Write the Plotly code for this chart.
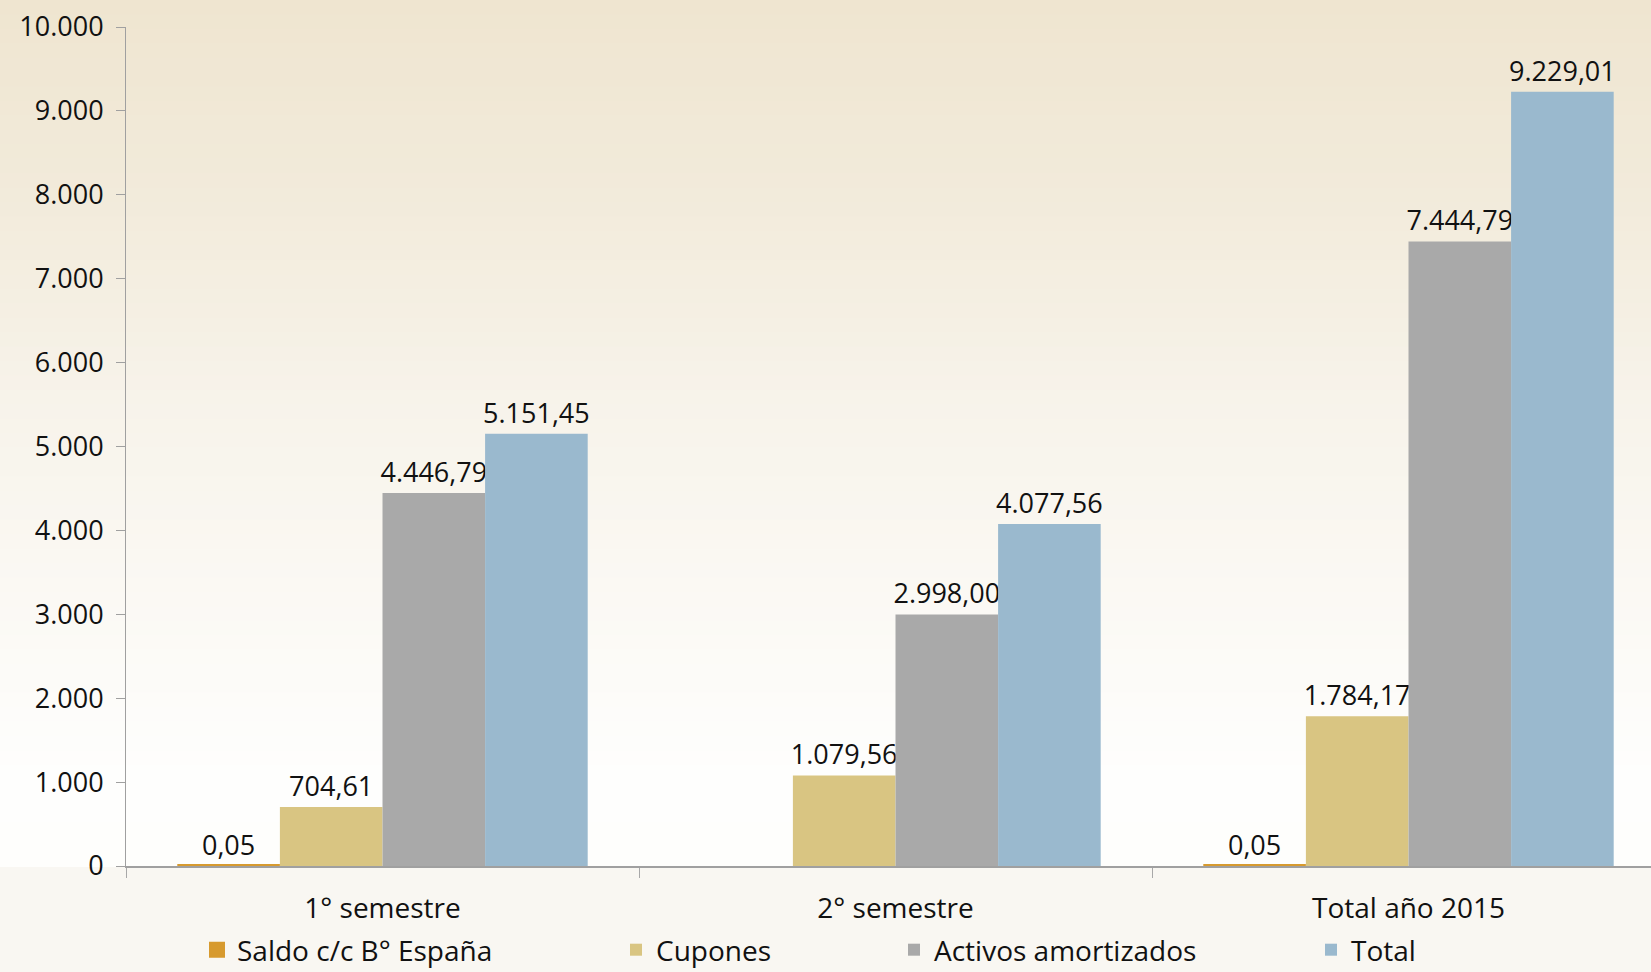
import plotly.graph_objects as go

categories = ["1° semestre", "2° semestre", "Total año 2015"]
series_names = ["Saldo c/c B° España", "Cupones", "Activos amortizados", "Total"]
saldo = [0.05, None, 0.05]
cupones = [704.61, 1079.56, 1784.17]
activos = [4446.79, 2998.00, 7444.79]
total = [5151.45, 4077.56, 9229.01]
y_ticks = [0, 1000, 2000, 3000, 4000, 5000, 6000, 7000, 8000, 9000, 10000]

colors = ["#D79A2E", "#D9C582", "#A9A9A9", "#9AB9CE"]

W, H = 1651, 972
L, R, T, B = 126, 0, 27, 106
plot_w = W - L - R
plot_h = H - T - B

FONT = "Open Sans"

fig = go.Figure()
values = [saldo, cupones, activos, total]
legend_ids = ["legend", "legend2", "legend3", "legend4"]
for i, (name, vals) in enumerate(zip(series_names, values)):
    kw = {}
    if i == 0:
        kw["marker_line"] = dict(color=colors[0], width=4)
    else:
        kw["marker_line"] = dict(width=0)
    fig.add_trace(go.Bar(
        x=categories, y=vals, name=name,
        marker_color=colors[i],
        texttemplate="%{y:,.2f}",
        textposition="outside",
        constraintext="none",
        textfont=dict(size=27, color="#111111", family=FONT),
        cliponaxis=False,
        legend=legend_ids[i],
        **kw,
    ))

# background gradient (decorative) as horizontal bands
stops = [(0, (239, 229, 208)), (200, (242, 235, 219)), (400, (247, 243, 234)),
         (600, (251, 249, 244)), (780, (254, 254, 253)), (866, (254, 254, 252))]
def col_at(py):
    for (y0, c0), (y1, c1) in zip(stops[:-1], stops[1:]):
        if y0 <= py <= y1:
            t = (py - y0) / (y1 - y0)
            return tuple(round(a + (b - a) * t) for a, b in zip(c0, c1))
    return stops[-1][1]

shapes = []
n = 60
for k in range(n):
    py0 = 866 * k / n
    py1 = 866 * (k + 1) / n + 1
    c = col_at((py0 + py1) / 2)
    shapes.append(dict(
        type="rect", xref="paper", yref="paper", layer="below",
        x0=-L / plot_w, x1=1.0,
        y0=(866 - py1) / plot_h, y1=(866 - py0) / plot_h,
        fillcolor="rgb(%d,%d,%d)" % c, line=dict(width=0),
    ))

legend_px = [211, 630, 908, 1325]
leg_y = (866 - 950) / plot_h
legends = {}
for lid, px in zip(legend_ids, legend_px):
    legends[lid] = dict(
        x=(px - 14 - L) / plot_w, y=leg_y, xanchor="left", yanchor="middle",
        orientation="h", bgcolor="rgba(0,0,0,0)",
        font=dict(size=28, color="#111111", family=FONT),
        itemwidth=30,
    )

fig.update_layout(
    width=W, height=H,
    margin=dict(l=L, r=R, t=T, b=B, pad=0, autoexpand=False),
    paper_bgcolor="#F9F7F2",
    plot_bgcolor="rgba(0,0,0,0)",
    separators=",.",
    barmode="group",
    bargap=0.2,
    bargroupgap=0,
    font=dict(family=FONT, size=27, color="#111111"),
    shapes=shapes,
    showlegend=True,
    **legends,
)
fig.update_xaxes(
    type="category", categoryorder="array", categoryarray=categories,
    range=[-0.5, -0.5 + plot_w / 513.0],
    showline=True, linecolor="#A0A0A0", linewidth=2,
    ticks="outside", tickson="boundaries", ticklen=10, tickcolor="#A8A8A8",
    showgrid=False, zeroline=False,
    tickfont=dict(size=28, color="#111111", family=FONT),
    ticklabelstandoff=16,
    automargin=False,
)
fig.update_yaxes(
    range=[0, 10000], tickvals=y_ticks, tickformat=",d",
    showline=True, linecolor="#A0A0A0", linewidth=1,
    ticks="outside", ticklen=9, tickcolor="#A0A0A0",
    showgrid=False, zeroline=False,
    tickfont=dict(size=27, color="#111111", family=FONT),
    ticklabelstandoff=7,
    automargin=False,
)

fig.write_html("out.html", config={"displayModeBar": False},
               post_script="document.body.style.margin='0';")
